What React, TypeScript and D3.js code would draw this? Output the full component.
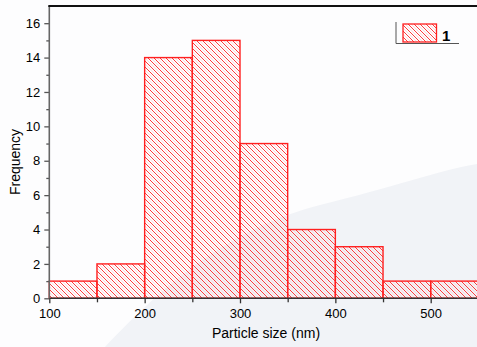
import React, { useEffect, useRef } from "react";
import * as d3 from "d3";

// histogram bins (nm) and counts
const binStarts = [100, 150, 200, 250, 300, 350, 400, 450, 500];
const binWidth = 50;
const counts = [1, 2, 14, 15, 9, 4, 3, 1, 1];
const xTicks = [100, 200, 300, 400, 500];
const yTicks = [0, 2, 4, 6, 8, 10, 12, 14, 16];
const legendLabel = "1";

const App = () => {
  const svgRef = useRef<SVGSVGElement>(null);

  useEffect(() => {
    const width = 477;
    const height = 347;
    const left = 49.3;
    const top = 6;
    const bottom = 298.3;

    const svg = d3.select(svgRef.current);
    svg.selectAll("*").remove();
    svg.attr("width", width).attr("height", height);

    // background with the faint curved shade
    svg.append("rect").attr("width", width).attr("height", height).attr("fill", "#fdfdfe");
    svg
      .append("path")
      .attr("d", "M105,347 C150,300 220,230 320,205 C390,188 440,170 477,164 L477,347 Z")
      .attr("fill", "#f1f3f7");

    const defs = svg.append("defs");
    const pat = defs
      .append("pattern")
      .attr("id", "hatch")
      .attr("patternUnits", "userSpaceOnUse")
      .attr("width", 6)
      .attr("height", 6);
    pat
      .append("path")
      .attr("d", "M-1,-1 L7,7 M-4,2 L4,10 M2,-4 L10,4")
      .attr("stroke", "#ff3b3b")
      .attr("stroke-width", 1);
    pat
      .append("path")
      .attr("d", "M-1,2 L4,7 M2,-1 L7,4")
      .attr("stroke", "#ffd2d2")
      .attr("stroke-width", 0.8);

    const x = d3.scaleLinear().domain([100, 550]).range([left, left + 4.5 * 95.35]);
    const y = d3.scaleLinear().domain([0, 17]).range([bottom, top]);

    const data = binStarts.map((s, i) => ({ x0: s, x1: s + binWidth, n: counts[i] }));

    // bars
    svg
      .selectAll(".bar")
      .data(data)
      .enter()
      .append("rect")
      .classed("bar", true)
      .attr("x", (d) => x(d.x0))
      .attr("y", (d) => y(d.n))
      .attr("width", (d) => x(d.x1) - x(d.x0))
      .attr("height", (d) => bottom - y(d.n))
      .attr("fill", "url(#hatch)")
      .attr("stroke", "#ff2020")
      .attr("stroke-width", 1.4);

    // x axis
    const xAxis = svg
      .append("g")
      .attr("transform", `translate(0,${bottom})`)
      .call(
        d3
          .axisBottom(x)
          .tickValues(d3.range(150, 551, 100))
          .tickSize(4)
          .tickFormat(() => "")
      );
    xAxis.select(".domain").remove();
    xAxis.selectAll("line").attr("stroke", "#333").attr("stroke-width", 1.3);

    const xMajor = svg
      .append("g")
      .attr("transform", `translate(0,${bottom})`)
      .call(d3.axisBottom(x).tickValues(xTicks).tickSize(5).tickPadding(5));
    xMajor.select(".domain").remove();
    xMajor.selectAll("line").attr("stroke", "#333").attr("stroke-width", 1.3);
    xMajor
      .selectAll("text")
      .attr("fill", "#000")
      .style("font-family", "'Liberation Sans', Arial, sans-serif")
      .style("font-size", "13px");

    svg
      .append("line")
      .attr("x1", left)
      .attr("x2", width)
      .attr("y1", bottom)
      .attr("y2", bottom)
      .attr("stroke", "#333")
      .attr("stroke-width", 1.5);

    // y axis
    const yMinor = svg
      .append("g")
      .attr("transform", `translate(${left},0)`)
      .call(
        d3
          .axisLeft(y)
          .tickValues(d3.range(1, 17, 2))
          .tickSize(3)
          .tickFormat(() => "")
      );
    yMinor.select(".domain").remove();
    yMinor.selectAll("line").attr("stroke", "#555").attr("stroke-width", 1.3);

    const yMajor = svg
      .append("g")
      .attr("transform", `translate(${left},0)`)
      .call(d3.axisLeft(y).tickValues(yTicks).tickSize(5).tickPadding(4));
    yMajor.select(".domain").remove();
    yMajor.selectAll("line").attr("stroke", "#555").attr("stroke-width", 1.3);
    yMajor
      .selectAll("text")
      .attr("fill", "#000")
      .style("font-family", "'Liberation Sans', Arial, sans-serif")
      .style("font-size", "13px");

    svg
      .append("line")
      .attr("x1", left)
      .attr("x2", left)
      .attr("y1", top)
      .attr("y2", bottom)
      .attr("stroke", "#666")
      .attr("stroke-width", 1.6);

    // top frame
    svg
      .append("line")
      .attr("x1", left - 1)
      .attr("x2", width)
      .attr("y1", top)
      .attr("y2", top)
      .attr("stroke", "#111")
      .attr("stroke-width", 2);

    // axis titles
    svg
      .append("text")
      .attr("x", 266)
      .attr("y", 338)
      .attr("text-anchor", "middle")
      .style("font-family", "'Liberation Sans', Arial, sans-serif")
      .style("font-size", "14px")
      .text("Particle size (nm)");

    svg
      .append("text")
      .attr("transform", "translate(19.5,162) rotate(-90)")
      .attr("text-anchor", "middle")
      .style("font-family", "'Liberation Sans', Arial, sans-serif")
      .style("font-size", "14px")
      .text("Frequency");

    // legend
    const lg = svg.append("g");
    lg.append("line")
      .attr("x1", 396)
      .attr("x2", 396)
      .attr("y1", 22)
      .attr("y2", 43.5)
      .attr("stroke", "#555")
      .attr("stroke-width", 1);
    lg.append("line")
      .attr("x1", 396)
      .attr("x2", 459)
      .attr("y1", 43.5)
      .attr("y2", 43.5)
      .attr("stroke", "#555")
      .attr("stroke-width", 1);
    lg.append("rect")
      .attr("x", 403)
      .attr("y", 24)
      .attr("width", 33.5)
      .attr("height", 18)
      .attr("fill", "url(#hatch)")
      .attr("stroke", "#ff2020")
      .attr("stroke-width", 1.3);
    lg.append("text")
      .attr("x", 442)
      .attr("y", 41)
      .style("font-family", "'Liberation Sans', Arial, sans-serif")
      .style("font-size", "15px")
      .style("font-weight", "bold")
      .text(legendLabel);
  }, []);

  return (
    <div style={{ position: "fixed", left: 0, top: 0 }}>
      <svg ref={svgRef} width={477} height={347} style={{ display: "block" }}></svg>
    </div>
  );
};

export default App;
